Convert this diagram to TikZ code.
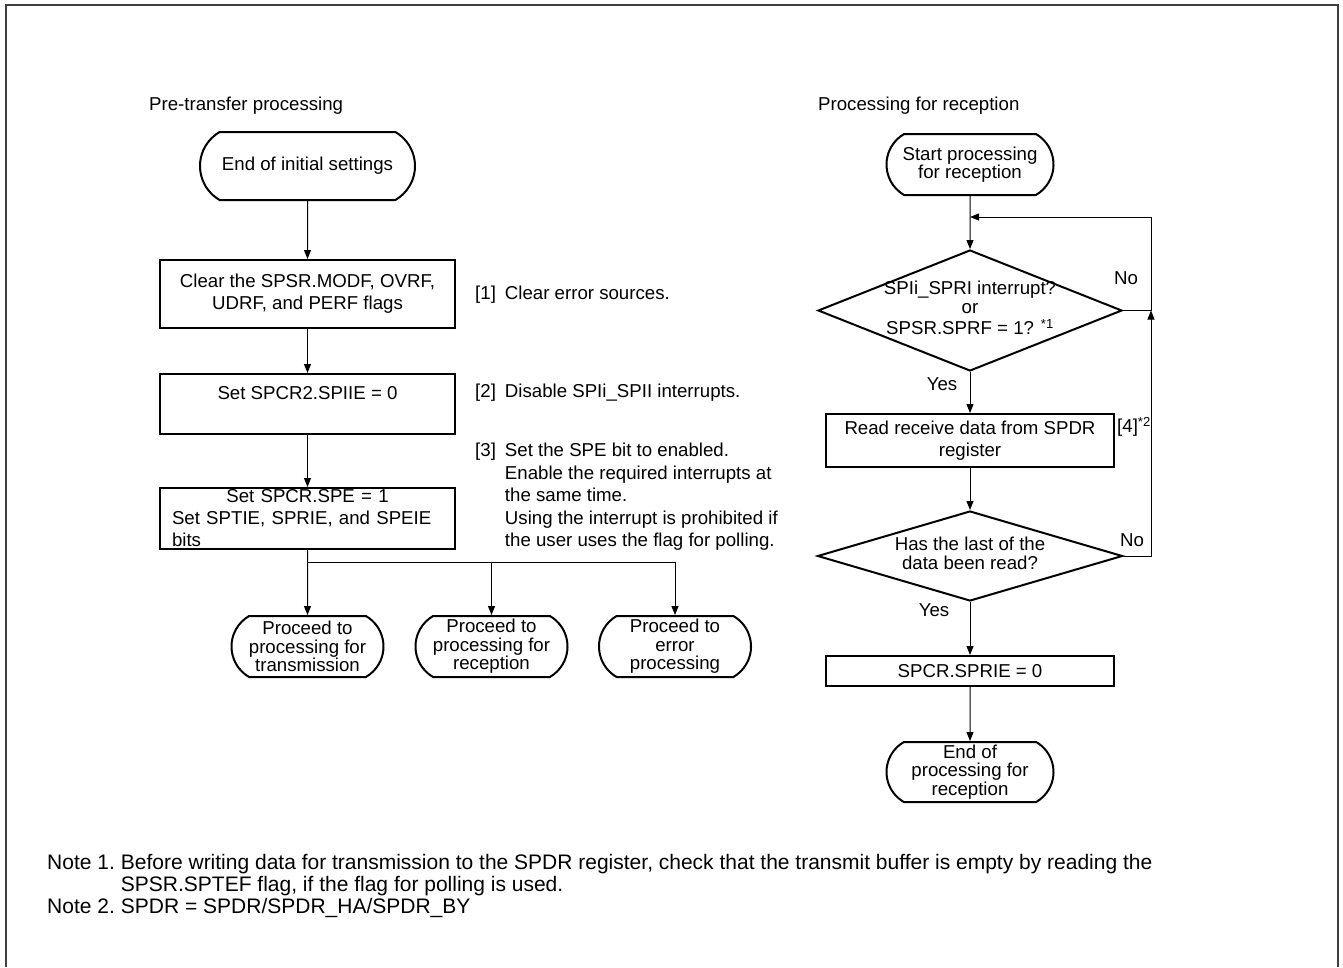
\documentclass[tikz,border=0pt]{standalone}
\usepackage{fontspec}
\setmainfont{Liberation Sans}
\usetikzlibrary{positioning, arrows.meta, shapes.geometric, shapes.misc}

\newcommand{\dtext}[1]{\makebox[0pt]{\begin{tabular}{@{}c@{}}#1\end{tabular}}}

\begin{document}
\begin{tikzpicture}[x=1pt, y=-1pt]
        \tikzstyle{terminal} = [rounded rectangle, rounded rectangle arc length=120, draw, line width=2pt, minimum width=152pt, minimum height=61pt, inner sep=0pt, align=center, font=\fontsize{18.66}{18.5}\selectfont]
        \tikzstyle{process} = [rectangle, draw, line width=2pt, minimum width=295pt, inner sep=0pt, align=center, font=\fontsize{18.66}{22}\selectfont]
        \tikzstyle{decision} = [diamond, draw, line width=2pt, inner sep=0pt, font=\fontsize{18.66}{19}\selectfont]
        \tikzstyle{annot} = [inner sep=0pt, font=\fontsize{18.66}{22.5}\selectfont]
        \tikzstyle{arrow} = [line width=1pt, -{Triangle[length=9pt, width=7pt]}]

        \useasboundingbox (0,0) rectangle (1343,967);
        \draw [line width=2pt, black!75] (6,967) -- (6,5) -- (1338,5) -- (1338,967);

        % pre-transfer processing
        \node [annot, anchor=west] (pretitle) at (149,105.5) {Pre-transfer processing};
        \node [terminal, minimum width=215pt, minimum height=68pt] (endinit) at (307.5,166) {End of initial settings};
        \node [process, minimum height=68pt, below=58pt of endinit] (clrflags) {Clear the SPSR.MODF, OVRF,\\UDRF, and PERF flags};
        \node [process, minimum height=60pt, below=44pt of clrflags] (spiie) {Set SPCR2.SPIIE = 0\\\mbox{}};
        \node [process, minimum height=61pt, below=52pt of spiie, text width=271pt, align=left] (spe) {{\centering Set SPCR.SPE = 1\par}Set SPTIE, SPRIE, and SPEIE\\bits};
        \coordinate [below=12pt of spe] (fork);
        \node [terminal, below=65pt of spe] (totx) {Proceed to\\processing for\\transmission};
        \node [terminal, right=30pt of totx] (torx) {Proceed to\\processing for\\reception};
        \node [terminal, right=29.5pt of torx] (toerr) {Proceed to\\error\\processing};

        \node [annot, anchor=west] (note1) at (475,295) {[1]\hspace{9pt}Clear error sources.};
        \node [annot, anchor=west] (note2) at (475,393) {[2]\hspace{9pt}Disable SPIi\_SPII interrupts.};
        \node [annot, anchor=west] (note3) at (475,497) {\begin{tabular}{@{}l@{\hspace{9pt}}l@{}}[3] & Set the SPE bit to enabled.\\ & Enable the required interrupts at\\ & the same time.\\ & Using the interrupt is prohibited if\\ & the user uses the flag for polling.\end{tabular}};

        \draw [arrow] (endinit) -- (clrflags);
        \draw [arrow] (clrflags) -- (spiie);
        \draw [arrow] (spiie) -- (spe);
        \draw [arrow] (spe) -- (totx);
        \draw [arrow] (fork) -| (torx);
        \draw [arrow] (fork) -| (toerr);

        % processing for reception
        \node [annot, anchor=west] (rxtitle) at (818,106) {Processing for reception};
        \node [terminal, minimum width=167pt] (startrx) at (970,164.5) {Start processing\\for reception};
        \node [decision, minimum width=304pt, minimum height=121pt, below=53pt of startrx] (gotdata) {\dtext{SPIi\_SPRI interrupt?\\or\\SPSR.SPRF = 1? \textsuperscript{*1}}};
        \node [process, minimum width=288pt, minimum height=53pt, below=41pt of gotdata] (readdr) {Read receive data from SPDR\\register};
        \node [annot, anchor=west] (tag4) at (1117,427) {[4]\textsuperscript{*2}};
        \node [decision, minimum width=305pt, minimum height=90pt, below=42pt of readdr] (lastdata) {\dtext{Has the last of the\\data been read?}};
        \node [process, minimum width=288pt, minimum height=30pt, below=53pt of lastdata] (clrie) {SPCR.SPRIE = 0};
        \node [terminal, minimum width=167pt, minimum height=60pt, below=54pt of clrie] (endrx) {End of\\processing for\\reception};
        \coordinate (join) at (970,217);
        \coordinate (rail) at (1151,217);
        \node [annot] (no1) at (1126,278) {No};
        \node [annot] (yes1) at (942,384) {Yes};
        \node [annot] (no2) at (1132,540) {No};
        \node [annot] (yes2) at (934,610) {Yes};

        \draw [arrow] (startrx) -- (gotdata);
        \draw [arrow] (gotdata) -- (readdr);
        \draw [arrow] (readdr) -- (lastdata);
        \draw [arrow] (lastdata) -- (clrie);
        \draw [arrow] (clrie) -- (endrx);
        \draw [arrow] (gotdata.east) -| (rail) -- (join);
        \draw [arrow] (lastdata.east) -| (gotdata.east -| rail);

        % notes
        \node [annot, anchor=west, font=\fontsize{21}{21.5}\selectfont] (notes) at (47,887) {\begin{tabular}{@{}l@{\hspace{6pt}}l@{}}Note 1. & Before writing data for transmission to the SPDR register, check that the transmit buffer is empty by reading the\\ & SPSR.SPTEF flag, if the flag for polling is used.\\Note 2. & SPDR = SPDR/SPDR\_HA/SPDR\_BY\end{tabular}};
\end{tikzpicture}
\end{document}
